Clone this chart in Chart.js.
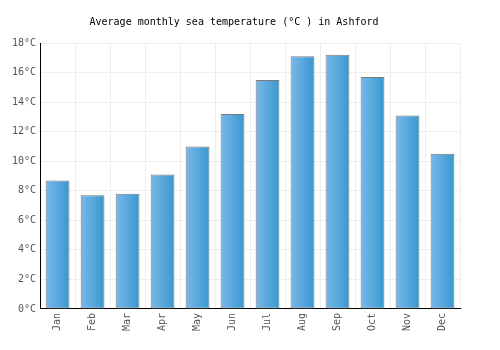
<!DOCTYPE html>
<html>
<head>
<meta charset="utf-8">
<script src="https://cdn.jsdelivr.net/npm/chart.js@4"></script>
<style>
  html, body { margin: 0; padding: 0; background: #fff; }
  #wrap { width: 500px; height: 350px; }
</style>
</head>
<body>
<div id="wrap"><canvas id="seaChart" width="500" height="350"></canvas></div>
<script>
const months = ['Jan', 'Feb', 'Mar', 'Apr', 'May', 'Jun', 'Jul', 'Aug', 'Sep', 'Oct', 'Nov', 'Dec'];
const seaTemp = [8.7, 7.7, 7.8, 9.1, 11.0, 13.2, 15.5, 17.1, 17.2, 15.7, 13.1, 10.5];
const yTicks = [0, 2, 4, 6, 8, 10, 12, 14, 16, 18];

const font = { family: "'DejaVu Sans Mono', 'Liberation Mono', monospace", size: 10, weight: 'normal' };

// left-to-right blue gradient for each bar
function barFill(context) {
    const chart = context.chart;
    const el = chart.getDatasetMeta(0).data[context.dataIndex];
    if (!el || el.x == null || isNaN(el.x)) return '#5aa6e0';
    const half = el.width / 2;
    const g = chart.ctx.createLinearGradient(el.x - half, 0, el.x + half, 0);
    g.addColorStop(0, '#7ab8ea');
    g.addColorStop(1, '#3798d0');
    return g;
}

const ctx = document.getElementById('seaChart').getContext('2d');
const seaChart = new Chart(ctx, {
    type: 'bar',
    data: {
        labels: months,
        datasets: [{
            label: 'Sea temperature',
            data: seaTemp,
            backgroundColor: barFill,
            borderColor: '#7a7a7a',
            borderWidth: 1,
            borderSkipped: false,
            inflateAmount: 0,
            barPercentage: 0.68,
            categoryPercentage: 1.0
        }]
    },
    options: {
        responsive: false,
        animation: false,
        layout: { padding: { left: 8, right: 40, top: 8, bottom: 15 } },
        scales: {
            x: {
                offset: true,
                grid: { color: '#eeeeee', offset: true, drawTicks: false },
                border: { color: '#000', width: 1 },
                ticks: { color: '#555', font: font, minRotation: 90, maxRotation: 90, padding: 4 }
            },
            y: {
                min: 0,
                max: 18,
                afterBuildTicks: axis => { axis.ticks = yTicks.map(v => ({ value: v })); },
                grid: { color: '#eeeeee', drawTicks: false },
                border: { color: '#000', width: 1 },
                ticks: { color: '#555', font: font, padding: 4, callback: v => v + '°C' }
            }
        },
        plugins: {
            legend: { display: false },
            tooltip: { enabled: false },
            title: {
                display: true,
                text: 'Average monthly sea temperature (°C ) in Ashford',
                color: '#000',
                font: font,
                padding: { top: 8, bottom: 15 }
            }
        }
    }
});

// second pass so the gradient knows where each bar sits
seaChart.update();
</script>
</body>
</html>
